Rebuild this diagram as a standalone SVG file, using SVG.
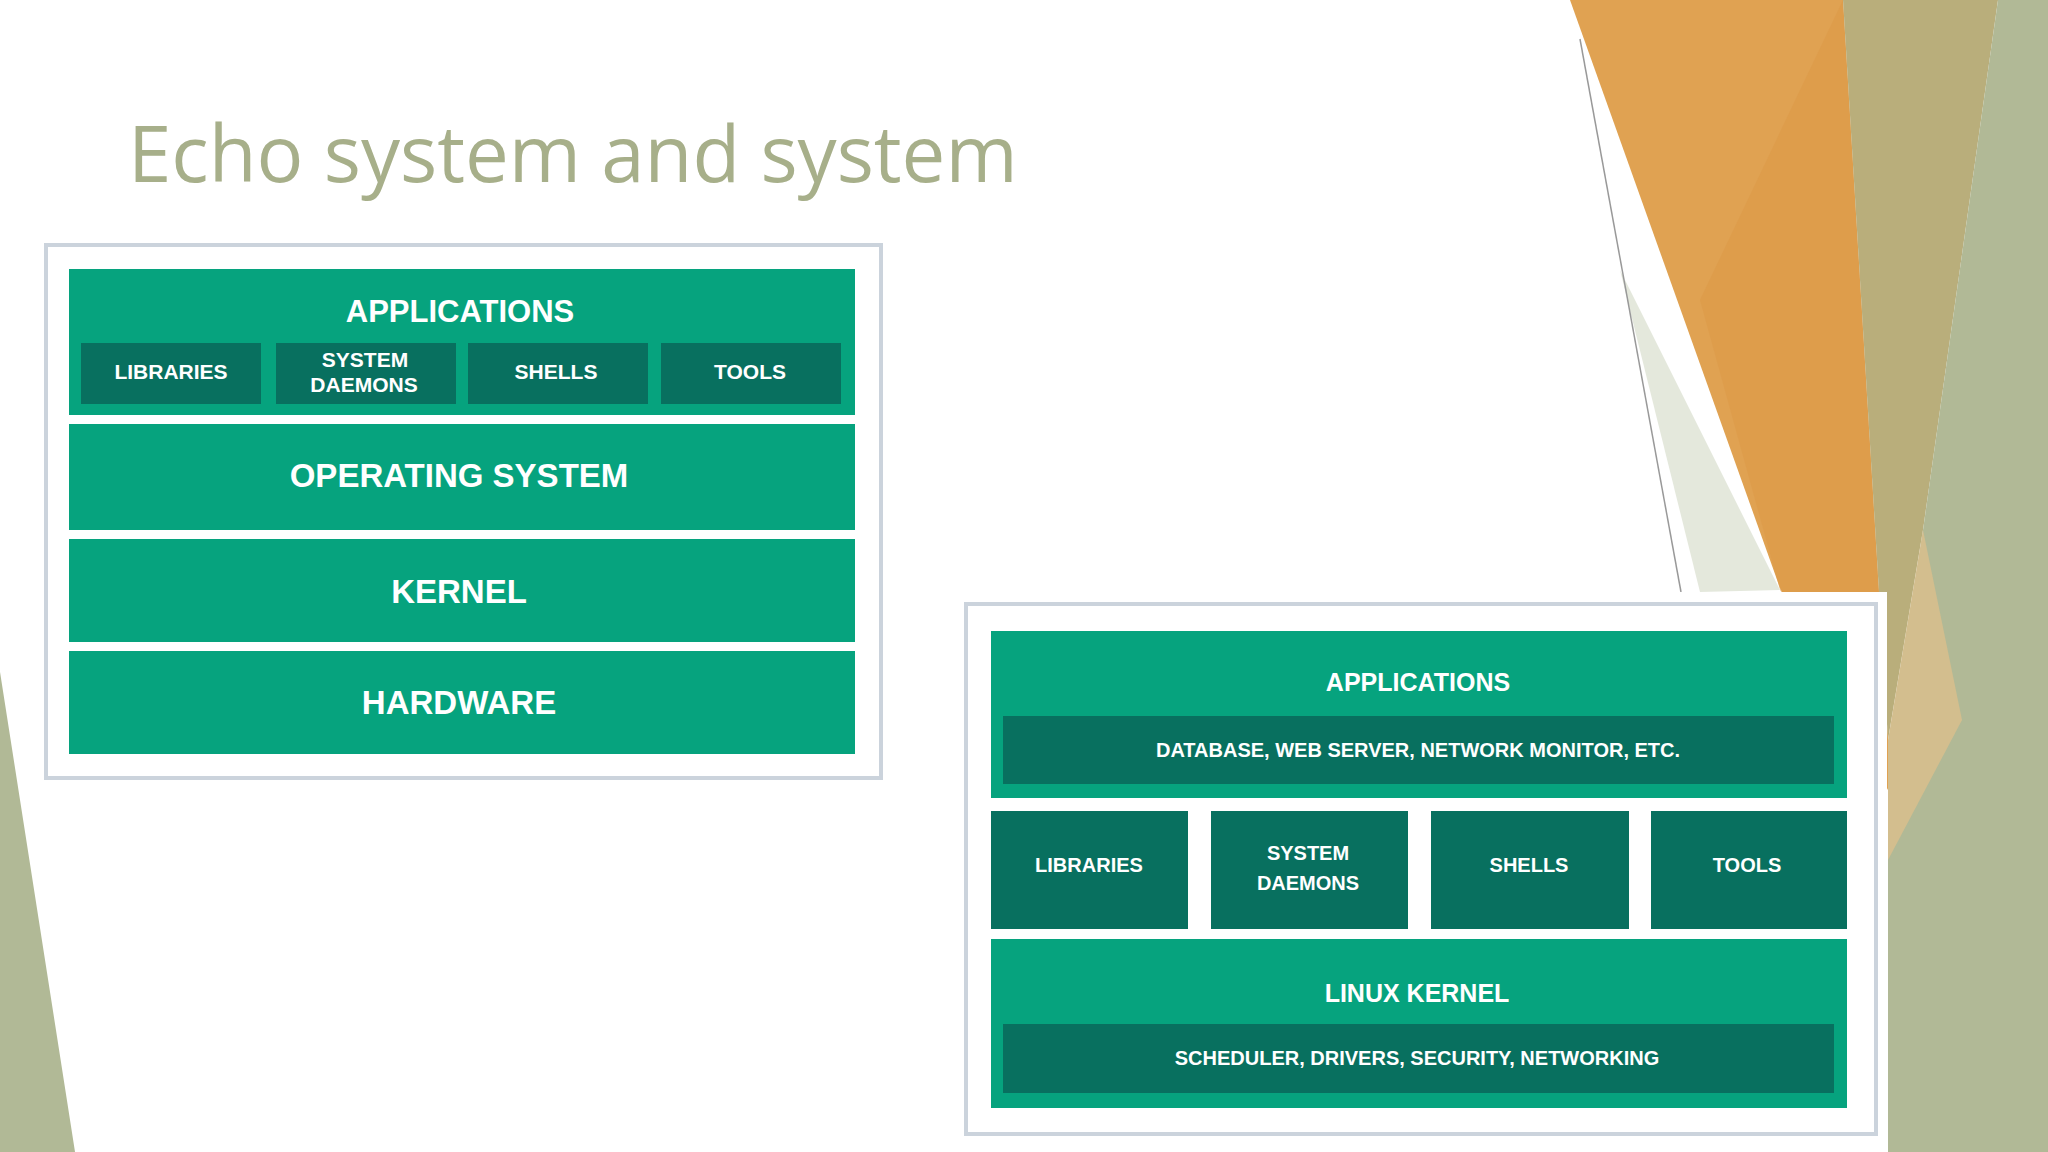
<svg xmlns="http://www.w3.org/2000/svg" width="2048" height="1152" viewBox="0 0 2048 1152">
<style>
.g{fill:#06A37E}.d{fill:#08705F}
.t{font-family:"Liberation Sans",Arial,sans-serif;font-weight:bold;fill:#fff;text-anchor:middle}
.frame{fill:#fff;stroke:#CBD3DC;stroke-width:4}
</style>
<rect width="2048" height="1152" fill="#fff"/>
<g id="decor">
<polygon points="1570,0 1843,0 1888,740 1888,790 1780,588" fill="#E0A252"/>
<polygon points="1700,300 1843,0 1888,740 1780,590" fill="#DC9A48" opacity="0.6"/>
<polygon points="1843,0 1998,0 1923,530 1888,740" fill="#B9AE7B"/>
<polygon points="1998,0 2048,0 2048,1152 1888,1152 1888,800 1923,530" fill="#B1B996"/>
<polygon points="1923,530 1962,720 1888,860 1888,740" fill="#D3BE8E"/>
<polygon points="1620,270 1780,590 1700,592" fill="#E4E8DC"/>
<line x1="1580" y1="39" x2="1681" y2="592" stroke="#999" stroke-width="1.5"/>
<polygon points="0,672 0,1152 75,1152" fill="#B1B996"/>
</g>
<text x="128" y="182" font-family="'Open Sans','Noto Sans',sans-serif" font-size="78" fill="#A7AF8A">Echo system and system</text>
<g id="left">
<rect class="frame" x="46" y="245" width="835" height="533"/>
<g id="l-apps"><rect class="g" x="69" y="269" width="786" height="146"/>
<text class="t" x="460" y="322" font-size="31">APPLICATIONS</text></g>
<g id="l-lib"><rect class="d" x="81" y="343" width="180" height="61"/><text class="t" x="171" y="379" font-size="21">LIBRARIES</text></g>
<g id="l-sd"><rect class="d" x="276" y="343" width="180" height="61"/><text class="t" x="365" y="367" font-size="21">SYSTEM</text><text class="t" x="364" y="392" font-size="21">DAEMONS</text></g>
<g id="l-sh"><rect class="d" x="468" y="343" width="180" height="61"/><text class="t" x="556" y="379" font-size="21">SHELLS</text></g>
<g id="l-tools"><rect class="d" x="661" y="343" width="180" height="61"/><text class="t" x="750" y="379" font-size="21">TOOLS</text></g>
<g id="l-os"><rect class="g" x="69" y="424" width="786" height="106"/><text class="t" x="459" y="487" font-size="33">OPERATING SYSTEM</text></g>
<g id="l-kernel"><rect class="g" x="69" y="539" width="786" height="103"/><text class="t" x="459" y="603" font-size="33">KERNEL</text></g>
<g id="l-hw"><rect class="g" x="69" y="651" width="786" height="103"/><text class="t" x="459" y="714" font-size="33">HARDWARE</text></g>
</g>
<g id="right">
<rect x="960" y="592" width="927" height="560" fill="#fff"/>
<rect class="frame" x="966" y="604" width="910" height="530"/>
<g id="r-apps"><rect class="g" x="991" y="631" width="856" height="167"/>
<text class="t" x="1418" y="691" font-size="25">APPLICATIONS</text>
<rect class="d" x="1003" y="716" width="831" height="68"/>
<text class="t" x="1418" y="757" font-size="20">DATABASE, WEB SERVER, NETWORK MONITOR, ETC.</text></g>
<g id="r-lib"><rect class="d" x="991" y="811" width="197" height="118"/><text class="t" x="1089" y="872" font-size="20">LIBRARIES</text></g>
<g id="r-sd"><rect class="d" x="1211" y="811" width="197" height="118"/><text class="t" x="1308" y="860" font-size="20">SYSTEM</text><text class="t" x="1308" y="890" font-size="20">DAEMONS</text></g>
<g id="r-sh"><rect class="d" x="1431" y="811" width="198" height="118"/><text class="t" x="1529" y="872" font-size="20">SHELLS</text></g>
<g id="r-tools"><rect class="d" x="1651" y="811" width="196" height="118"/><text class="t" x="1747" y="872" font-size="20">TOOLS</text></g>
<g id="r-kernel"><rect class="g" x="991" y="939" width="856" height="169"/>
<text class="t" x="1417" y="1002" font-size="25">LINUX KERNEL</text>
<rect class="d" x="1003" y="1024" width="831" height="69"/>
<text class="t" x="1417" y="1065" font-size="20">SCHEDULER, DRIVERS, SECURITY, NETWORKING</text></g>
</g>
<g id="connectors"/>
</svg>
